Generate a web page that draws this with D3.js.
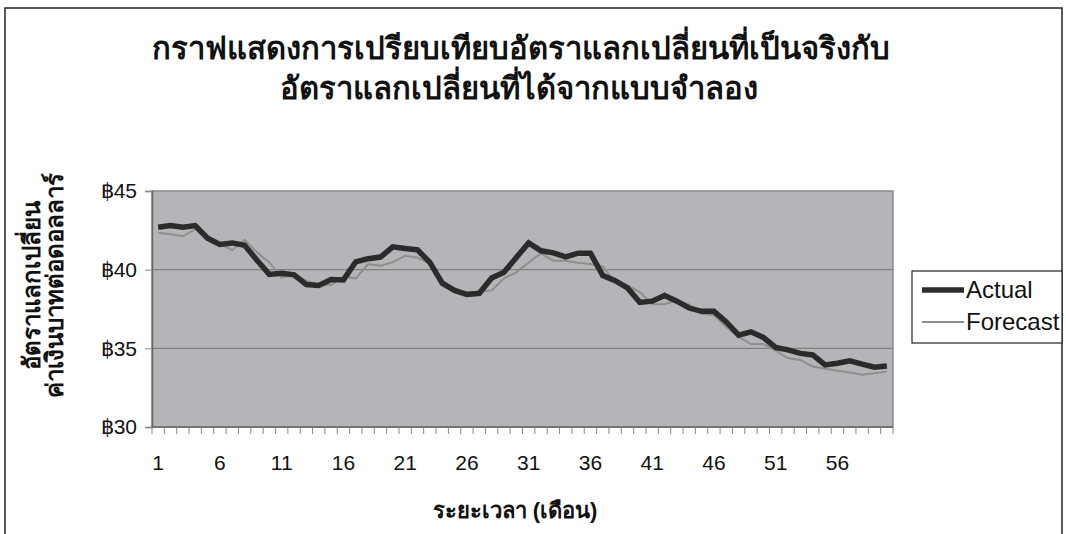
<!DOCTYPE html>
<html>
<head>
<meta charset="utf-8">
<script src="https://cdn.jsdelivr.net/npm/d3@7"></script>
<style>
  body { margin: 0; background: #fff; }
  svg { display: block; }
  text { font-family: "Liberation Sans", Arial, sans-serif; }
</style>
</head>
<body>
<svg id="chart" width="1066" height="534"></svg>
<script>
// months 1..60
const months = d3.range(1, 61);
const xTickLabels = [1, 6, 11, 16, 21, 26, 31, 36, 41, 46, 51, 56];
const yTicks = [30, 35, 40, 45];
const seriesNames = ["Actual", "Forecast"];

const actual = [
  42.7, 42.8, 42.7, 42.8, 42.0, 41.6, 41.7, 41.55, 40.6, 39.7,
  39.77, 39.67, 39.05, 39.0, 39.37, 39.35, 40.5, 40.7, 40.8, 41.45,
  41.35, 41.26, 40.46, 39.14, 38.68, 38.42, 38.5, 39.47, 39.83, 40.78,
  41.7, 41.2, 41.07, 40.82, 41.05, 41.05, 39.62, 39.3, 38.84, 37.92,
  38.0, 38.36, 38.0, 37.56, 37.35, 37.35, 36.68, 35.84, 36.05, 35.69,
  35.06, 34.9, 34.68, 34.58, 33.95, 34.05, 34.2, 34.0, 33.8, 33.88
];
const forecast = [
  42.35, 42.25, 42.12, 42.57, 41.94, 41.62, 41.24, 41.9, 41.1, 40.46,
  39.5, 39.67, 39.3, 39.05, 39.03, 39.56, 39.45, 40.36, 40.25, 40.48,
  40.88, 40.78, 40.36, 39.3, 38.76, 38.55, 38.6, 38.68, 39.45, 39.83,
  40.46, 41.03, 40.57, 40.57, 40.44, 40.36, 40.2, 39.2, 39.0, 38.57,
  37.8, 37.8, 38.05, 37.77, 37.2, 37.1, 36.36, 35.73, 35.27, 35.27,
  34.85, 34.37, 34.26, 33.84, 33.7, 33.57, 33.46, 33.32, 33.42, 33.52
];

const svg = d3.select("#chart");
const plot = { left: 152, right: 893, top: 191, bottom: 427 };

// outer frame
svg.append("rect")
  .attr("x", 5).attr("y", 8).attr("width", 1057).attr("height", 540)
  .attr("fill", "#fff").attr("stroke", "#222").attr("stroke-width", 1.5);

const x = d3.scaleBand().domain(months).range([plot.left, plot.right]);
const xc = d => x(d) + x.bandwidth() / 2;
const y = d3.scaleLinear().domain([30, 45]).range([plot.bottom, plot.top]);

// plot background
svg.append("rect")
  .attr("x", plot.left).attr("y", plot.top)
  .attr("width", plot.right - plot.left).attr("height", plot.bottom - plot.top)
  .attr("fill", "#b4b5b9").attr("stroke", "#8a8a8a").attr("stroke-width", 1.5);

// gridlines
svg.append("g").selectAll("line")
  .data(yTicks.filter(v => v > 30 && v < 45))
  .join("line")
  .attr("x1", plot.left).attr("x2", plot.right)
  .attr("y1", d => y(d)).attr("y2", d => y(d))
  .attr("stroke", "#808080").attr("stroke-width", 1.2);

// y axis
const yAxis = svg.append("g")
  .attr("transform", `translate(${plot.left},0)`)
  .call(d3.axisLeft(y).tickValues(yTicks).tickSize(7).tickPadding(8)
    .tickFormat(d => "\u0E3F" + d));
yAxis.select(".domain").attr("stroke", "#666").attr("stroke-width", 1.5);
yAxis.selectAll(".tick line").attr("stroke", "#888");
yAxis.selectAll("text")
  .attr("font-size", 21).attr("fill", "#111")
  .attr("font-family", "'Liberation Sans', 'DejaVu Sans', sans-serif");

// x axis: ticks on category boundaries
const xAxisG = svg.append("g");
xAxisG.append("line")
  .attr("x1", plot.left).attr("x2", plot.right)
  .attr("y1", plot.bottom).attr("y2", plot.bottom)
  .attr("stroke", "#666").attr("stroke-width", 1.5);
xAxisG.selectAll("line.tk")
  .data(months.concat([61]))
  .join("line").attr("class", "tk")
  .attr("x1", d => d === 61 ? plot.right : x(d))
  .attr("x2", d => d === 61 ? plot.right : x(d))
  .attr("y1", plot.bottom).attr("y2", plot.bottom + 7)
  .attr("stroke", "#888");
xAxisG.selectAll("text")
  .data(xTickLabels)
  .join("text")
  .attr("x", d => xc(d))
  .attr("y", 470)
  .attr("text-anchor", "middle")
  .attr("font-size", 21).attr("fill", "#111")
  .text(d => d);

// lines
const line = d3.line().x((d, i) => xc(months[i])).y(d => y(d));

svg.append("path").datum(forecast)
  .attr("fill", "none").attr("stroke", "#8e8e8e").attr("stroke-width", 2)
  .attr("d", line);
svg.append("path").datum(actual)
  .attr("fill", "none").attr("stroke", "#2b2b2b").attr("stroke-width", 5.5)
  .attr("stroke-linejoin", "miter")
  .attr("d", line);

// titles
const thai = "'Noto Sans Thai', 'Noto Sans', 'DejaVu Sans', sans-serif";
svg.append("text")
  .attr("x", 521).attr("y", 59).attr("text-anchor", "middle")
  .attr("font-family", thai).attr("font-weight", "bold").attr("font-size", 31)
  .attr("fill", "#111")
  .text("กราฟแสดงการเปรียบเทียบอัตราแลกเปลี่ยนที่เป็นจริงกับ");
svg.append("text")
  .attr("x", 519).attr("y", 99).attr("text-anchor", "middle")
  .attr("font-family", thai).attr("font-weight", "bold").attr("font-size", 31)
  .attr("fill", "#111")
  .text("อัตราแลกเปลี่ยนที่ได้จากแบบจำลอง");

const yTitle = svg.append("text")
  .attr("transform", "translate(40,285) rotate(-90)")
  .attr("text-anchor", "middle")
  .attr("font-family", thai).attr("font-weight", "bold").attr("font-size", 24)
  .attr("fill", "#111");
yTitle.append("tspan").attr("x", 0).attr("dy", 0).text("อัตราแลกเปลี่ยน");
yTitle.append("tspan").attr("x", 0).attr("dy", 23).text("ค่าเงินบาทต่อดอลลาร์");

svg.append("text")
  .attr("x", 515).attr("y", 518).attr("text-anchor", "middle")
  .attr("font-family", thai).attr("font-weight", "bold").attr("font-size", 22)
  .attr("fill", "#111")
  .text("ระยะเวลา (เดือน)");

// legend
const lg = svg.append("g").attr("transform", "translate(912,271)");
lg.append("rect")
  .attr("width", 150).attr("height", 72)
  .attr("fill", "#fff").attr("stroke", "#222").attr("stroke-width", 1.2);
const lgItems = lg.selectAll("g.item")
  .data(seriesNames)
  .join("g").attr("class", "item")
  .attr("transform", (d, i) => `translate(0,${19 + i * 32})`);
lgItems.append("line")
  .attr("x1", 10).attr("x2", 52)
  .attr("stroke", (d, i) => i === 0 ? "#2b2b2b" : "#8e8e8e")
  .attr("stroke-width", (d, i) => i === 0 ? 5.5 : 2);
lgItems.append("text")
  .attr("x", 54).attr("y", 8)
  .attr("font-size", 24).attr("fill", "#111")
  .text(d => d);
</script>
</body>
</html>
